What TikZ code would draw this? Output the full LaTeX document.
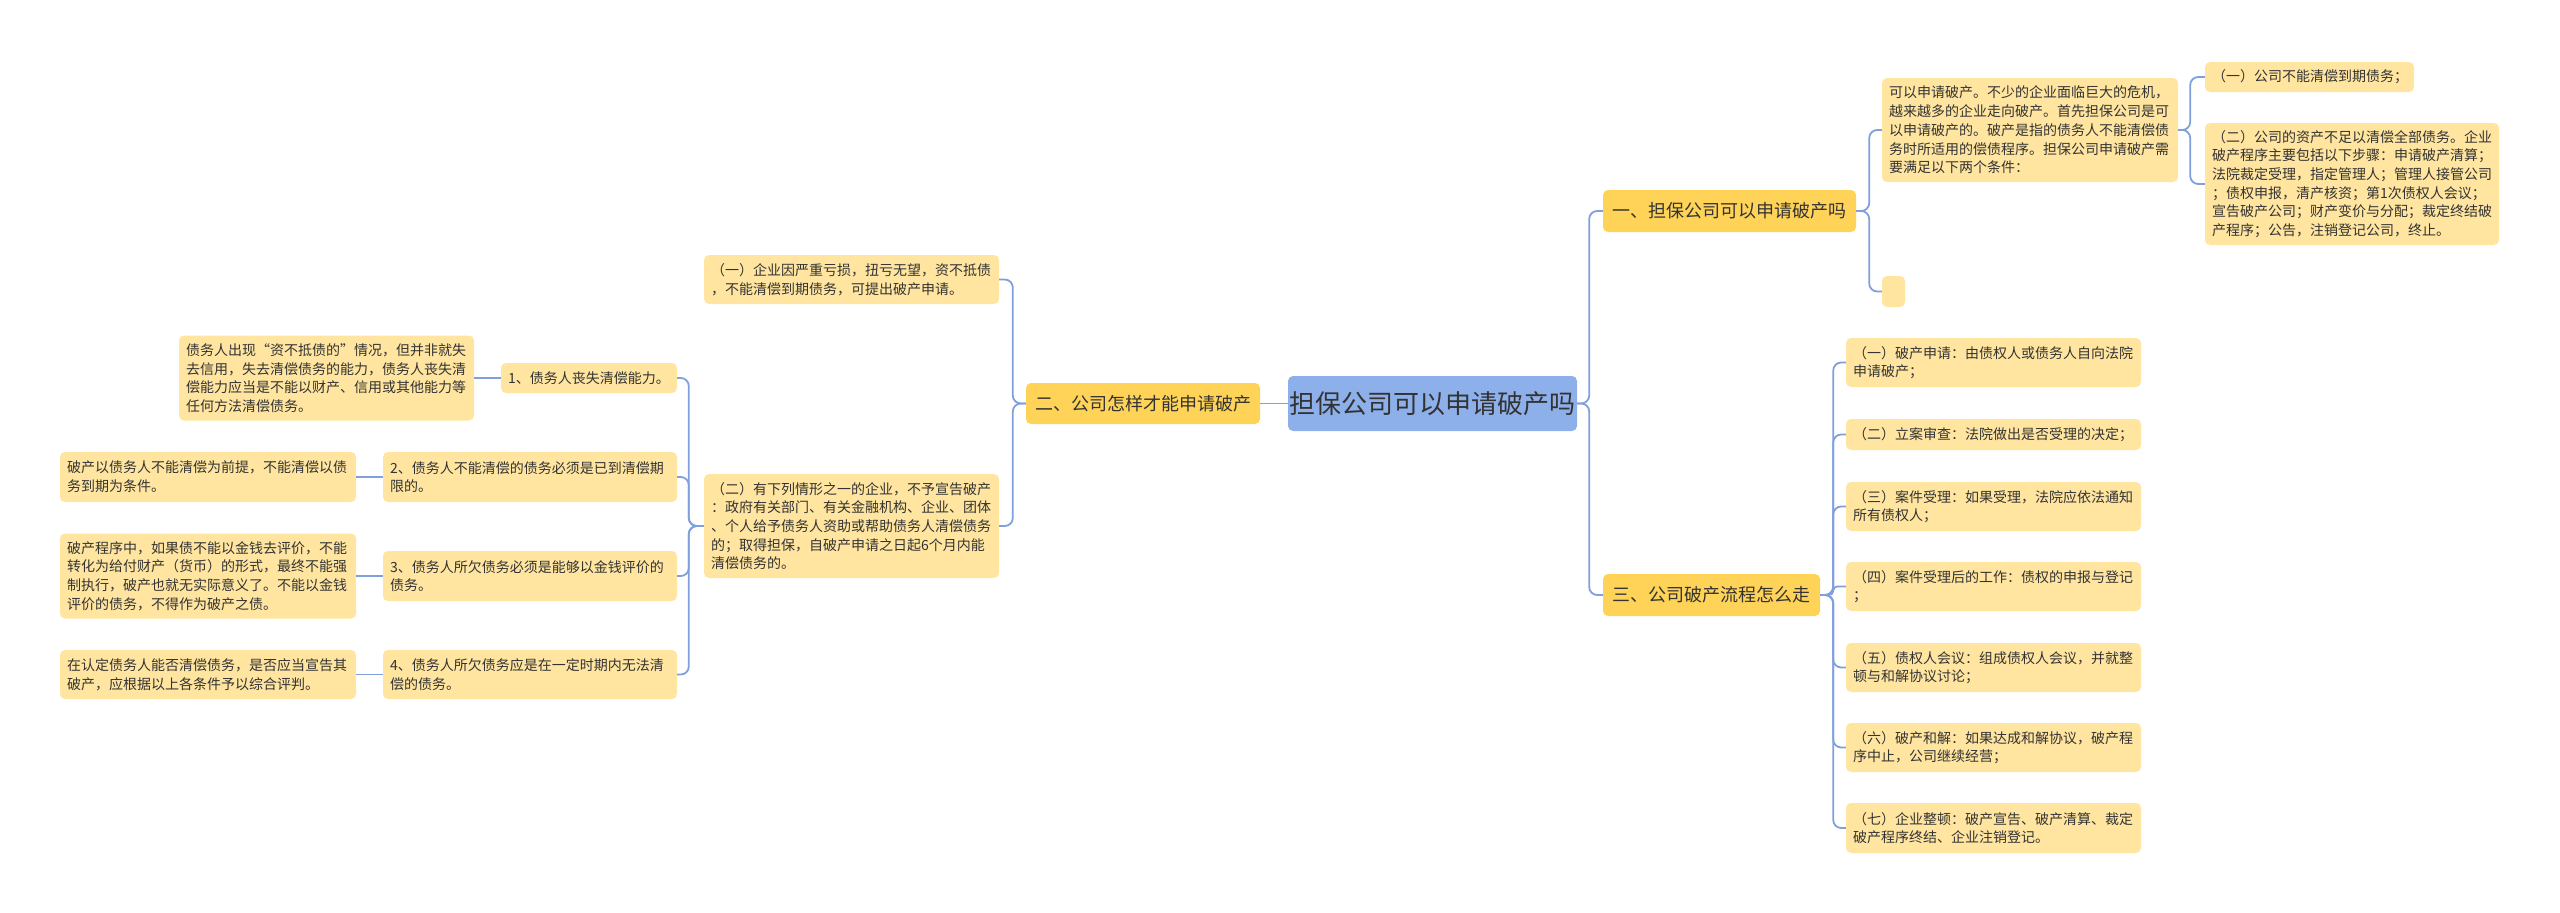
\documentclass[tikz,border=0pt]{standalone}
\usepackage{fontspec}
\setmainfont{Noto Sans CJK SC}
\definecolor{linec}{HTML}{7FA0DC}
\definecolor{rootc}{HTML}{8DB0EB}
\definecolor{lonec}{HTML}{FFD358}
\definecolor{leafc}{HTML}{FFE5A0}
\definecolor{txt}{HTML}{333333}
\tikzset{
  box/.style={rounded corners=5pt, inner ysep=0pt, text=txt, anchor=center},
  rootbox/.style={box, fill=rootc, inner xsep=0pt, align=center, font=\fontsize{26}{30}\selectfont},
  lone/.style={box, fill=lonec, inner xsep=0pt, align=center, font=\fontsize{18}{22}\selectfont},
  leaf/.style={box, fill=leafc, inner xsep=7pt, align=left, font=\fontsize{14}{18.7}\selectfont},
  conn/.style={draw=linec, line width=1.8pt, rounded corners=8pt}
}
\begin{document}
\begin{tikzpicture}[x=1pt, y={(0pt,-1pt)}]
\useasboundingbox (0,0) rectangle (2560,913);
% root
\node[rootbox, minimum width=289pt, minimum height=55pt] (root) at (1432.5,403.5) {担保公司可以申请破产吗};
% level 1
\node[lone, minimum width=253pt, minimum height=42pt] (A) at (1729.5,211) {一、担保公司可以申请破产吗};
\node[lone, minimum width=234pt, minimum height=41pt] (B) at (1143,403.5) {二、公司怎样才能申请破产};
\node[lone, minimum width=217pt, minimum height=42pt] (C) at (1711.5,595) {三、公司破产流程怎么走};
% A children
\node[leaf, minimum width=296pt, minimum height=104pt, text width=282pt] (A1) at (2030,130) {可以申请破产。不少的企业面临巨大的危机，\\越来越多的企业走向破产。首先担保公司是可\\以申请破产的。破产是指的债务人不能清偿债\\务时所适用的偿债程序。担保公司申请破产需\\要满足以下两个条件：};
\node[leaf, inner xsep=0pt, minimum width=23pt, minimum height=31pt] (A2) at (1893.5,291.5) {};
\node[leaf, minimum width=209pt, minimum height=30pt, text width=195pt] (A1a) at (2309.5,77) {（一）公司不能清偿到期债务；};
\node[leaf, minimum width=294pt, minimum height=122pt, text width=280pt] (A1b) at (2352,184) {（二）公司的资产不足以清偿全部债务。企业\\破产程序主要包括以下步骤：申请破产清算；\\法院裁定受理，指定管理人；管理人接管公司\\；债权申报，清产核资；第1次债权人会议；\\宣告破产公司；财产变价与分配；裁定终结破\\产程序；公告，注销登记公司，终止。};
% B children
\node[leaf, minimum width=295pt, minimum height=49pt, text width=281pt] (B1) at (851.5,279.5) {（一）企业因严重亏损，扭亏无望，资不抵债\\，不能清偿到期债务，可提出破产申请。};
\node[leaf, minimum width=295pt, minimum height=104pt, text width=281pt] (B2) at (851.5,526) {（二）有下列情形之一的企业，不予宣告破产\\：政府有关部门、有关金融机构、企业、团体\\、个人给予债务人资助或帮助债务人清偿债务\\的；取得担保，自破产申请之日起6个月内能\\清偿债务的。};
% D nodes
\node[leaf, minimum width=176pt, minimum height=30pt, text width=162pt] (D1) at (589,378) {1、债务人丧失清偿能力。};
\node[leaf, minimum width=295pt, minimum height=85pt, text width=281pt] (D1l) at (326.5,378) {债务人出现“资不抵债的”情况，但并非就失\\去信用，失去清偿债务的能力，债务人丧失清\\偿能力应当是不能以财产、信用或其他能力等\\任何方法清偿债务。};
\node[leaf, minimum width=294pt, minimum height=50pt, text width=280pt] (D2) at (530,477) {2、债务人不能清偿的债务必须是已到清偿期\\限的。};
\node[leaf, minimum width=296pt, minimum height=50pt, text width=282pt] (D2l) at (208,477) {破产以债务人不能清偿为前提，不能清偿以债\\务到期为条件。};
\node[leaf, minimum width=294pt, minimum height=50pt, text width=280pt] (D3) at (530,576) {3、债务人所欠债务必须是能够以金钱评价的\\债务。};
\node[leaf, minimum width=296pt, minimum height=85pt, text width=282pt] (D3l) at (208,576) {破产程序中，如果债不能以金钱去评价，不能\\转化为给付财产（货币）的形式，最终不能强\\制执行，破产也就无实际意义了。不能以金钱\\评价的债务，不得作为破产之债。};
\node[leaf, minimum width=294pt, minimum height=49pt, text width=280pt] (D4) at (530,674.5) {4、债务人所欠债务应是在一定时期内无法清\\偿的债务。};
\node[leaf, minimum width=296pt, minimum height=49pt, text width=282pt] (D4l) at (208,674.5) {在认定债务人能否清偿债务，是否应当宣告其\\破产，应根据以上各条件予以综合评判。};
% C children
\node[leaf, minimum width=295pt, minimum height=49pt, text width=281pt] (C1) at (1993.5,362.5) {（一）破产申请：由债权人或债务人自向法院\\申请破产；};
\node[leaf, minimum width=295pt, minimum height=31pt, text width=281pt] (C2) at (1993.5,434.5) {（二）立案审查：法院做出是否受理的决定；};
\node[leaf, minimum width=295pt, minimum height=49pt, text width=281pt] (C3) at (1993.5,506.5) {（三）案件受理：如果受理，法院应依法通知\\所有债权人；};
\node[leaf, minimum width=295pt, minimum height=49pt, text width=281pt] (C4) at (1993.5,586.5) {（四）案件受理后的工作：债权的申报与登记\\；};
\node[leaf, minimum width=295pt, minimum height=49pt, text width=281pt] (C5) at (1993.5,667.5) {（五）债权人会议：组成债权人会议，并就整\\顿与和解协议讨论；};
\node[leaf, minimum width=295pt, minimum height=49pt, text width=281pt] (C6) at (1993.5,747.5) {（六）破产和解：如果达成和解协议，破产程\\序中止，公司继续经营；};
\node[leaf, minimum width=295pt, minimum height=50pt, text width=281pt] (C7) at (1993.5,828) {（七）企业整顿：破产宣告、破产清算、裁定\\破产程序终结、企业注销登记。};
% connectors
\draw[conn] (root.west) -- (B.east);
\draw[conn] (root.east) -- ++(12pt,0) |- (A.west);
\draw[conn] (root.east) -- ++(12pt,0) |- (C.west);
\draw[conn] (A.east) -- ++(13pt,0) |- (A1.west);
\draw[conn] (A.east) -- ++(13pt,0) |- (A2.west);
\draw[conn] (A1.east) -- ++(12pt,0) |- (A1a.west);
\draw[conn] (A1.east) -- ++(12pt,0) |- (A1b.west);
\foreach \n in {C1,C2,C3,C5,C6,C7} \draw[conn] (C.east) -- ++(13pt,0) |- (\n.west);
\draw[conn, rounded corners=4pt] (C.east) -- ++(13pt,0) |- (C4.west);
\draw[conn] (B.west) -- ++(-13pt,0) |- (B1.east);
\draw[conn] (B.west) -- ++(-13pt,0) |- (B2.east);
\foreach \n in {D1,D2,D3,D4} \draw[conn] (B2.west) -- ++(-15pt,0) |- (\n.east);
\draw[conn] (D1.west) -- (D1l.east);
\draw[conn] (D2.west) -- (D2l.east);
\draw[conn] (D3.west) -- (D3l.east);
\draw[conn] (D4.west) -- (D4l.east);
\end{tikzpicture}
\end{document}
